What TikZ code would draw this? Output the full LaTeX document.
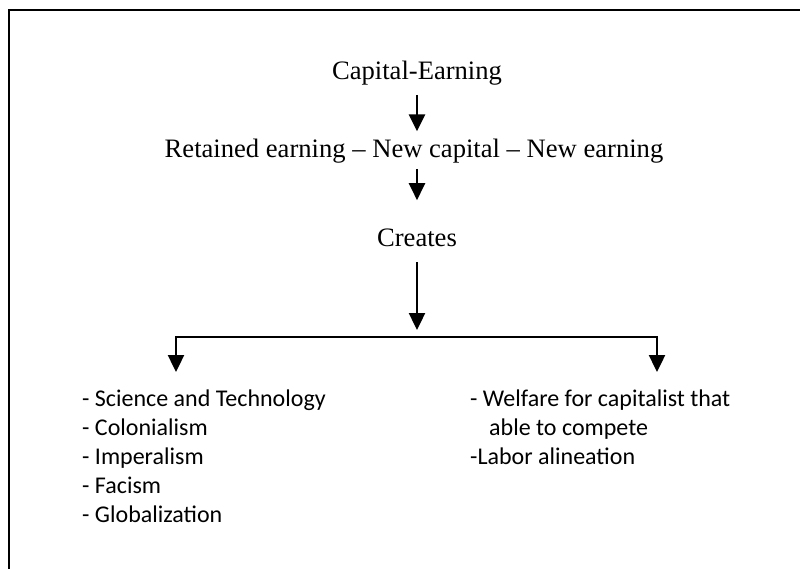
\documentclass[tikz,border=0pt]{standalone}
\usepackage{fontspec}
\setmainfont{Liberation Serif}
\newfontfamily\calibri{Carlito}
\usetikzlibrary{arrows.meta}
\tikzset{
  flowtxt/.style={font=\fontsize{26.6}{30}\selectfont, inner sep=0pt, anchor=base},
  listtxt/.style={font=\calibri\fontsize{24}{29}\selectfont, align=left, inner sep=0pt, anchor=north west},
  flowarr/.style={line width=2.4pt, -{Triangle[width=16pt,length=17pt]}},
}
\begin{document}
\begin{tikzpicture}[x=1pt,y=-1pt]
 \useasboundingbox (0,0) rectangle (800,568);
 \clip (0,0) rectangle (800,568);
 % frame (only top and left edge visible)
 \draw[line width=2.6pt] (9,600) -- (9,10) -- (830,10);
 % flow
 \node (cap) at (417,79) [flowtxt] {Capital-Earning};
 \node (ret) at (414,157) [flowtxt] {Retained earning -- New capital -- New earning};
 \node (cre) at (417,246) [flowtxt] {Creates};
 \coordinate (split) at (417,337);
 \coordinate (lend) at (176,372);
 \coordinate (rend) at (657,372);
 \draw[flowarr, shorten <=10pt, shorten >=7pt] (cap) -- (cap |- ret.north);
 \draw[flowarr, shorten <=6pt, shorten >=28pt] (cap |- ret.south) -- (cre);
 \draw[flowarr, shorten <=16pt, shorten >=7pt] (cre) -- (split);
 \draw[flowarr] (split) -| (lend);
 \draw[flowarr] (split) -| (rend);
 % lists
 \node (sci) at (82,390) [listtxt] {- Science and Technology\\- Colonialism\\- Imperalism\\- Facism\\- Globalization};
 \node (wel) at (470,390) [listtxt] {- Welfare for capitalist that\\\hspace*{19pt}able to compete\\-Labor alineation};
\end{tikzpicture}
\end{document}
